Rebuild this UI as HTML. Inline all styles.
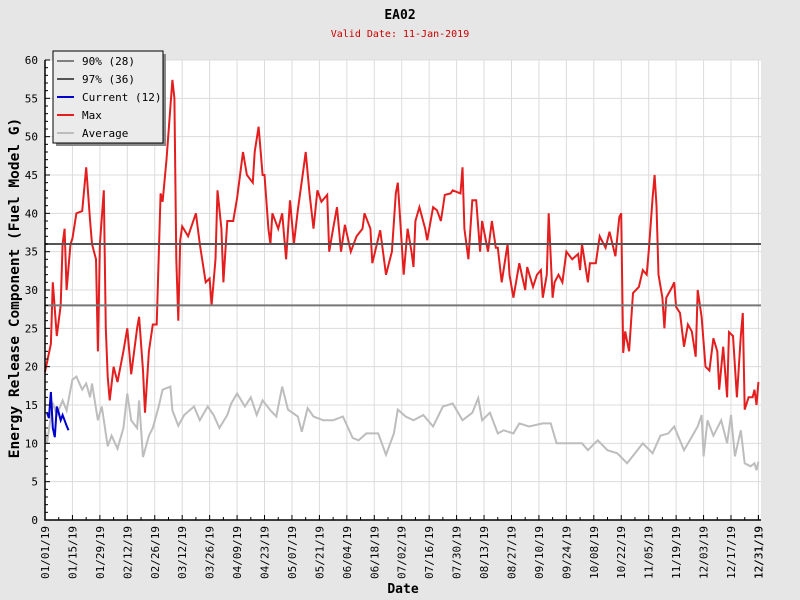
<!DOCTYPE html>
<html><head><meta charset="utf-8"><style>
body{margin:0;background:#e6e6e6;}
svg{display:block;font-family:"DejaVu Sans Mono","Liberation Mono",monospace;}
</style></head><body>
<svg id="c" width="800" height="600" xmlns="http://www.w3.org/2000/svg">
<rect width="800" height="600" fill="#e6e6e6"/>
<rect x="45" y="60" width="716" height="460" fill="#ffffff"/>
<g id="grid"></g>
<g id="series"></g>
<g id="axes"></g>
<text x="400" y="19" text-anchor="middle" font-size="13" font-weight="bold" fill="#000">EA02</text>
<text x="400" y="37" text-anchor="middle" font-size="10" fill="#cc0000">Valid Date: 11-Jan-2019</text>
<text transform="translate(19,288) rotate(-90)" text-anchor="middle" font-size="14.5" font-weight="bold" fill="#000">Energy Release Component (Fuel Model G)</text>
<text x="403" y="593" text-anchor="middle" font-size="13" font-weight="bold" fill="#000">Date</text>
<g>
<rect x="56" y="54" width="110" height="92" fill="#888"/>
<rect x="53" y="51" width="110" height="92" fill="#ebebeb" stroke="#000" stroke-width="1"/>
<g id="legend"></g>
</g>
</svg>
<script>
const yTicks=[0,5,10,15,20,25,30,35,40,45,50,55,60];
const p90=28, p97=36;
const currentDay=[0,1,2,3,4,5,6,7,8,9,10,11];
const currentVal=[14,13.3,16.7,12,10.8,14.8,14,13,13.7,13,12.3,11.7];
const maxDay=[0,3,4,6,8,9,10,11,13,14,16,19,21,23,24,26,27,28,30,31,32,33,35,37,40,42,44,47,48,50,51,53,55,57,59,60,62,65,66,67,68,69,70,73,77,79,82,84,85,87,88,90,91,93,96,98,101,103,106,107,109,111,112,114,115,116,119,121,123,125,127,129,132,133,135,137,139,141,144,145,147,149,151,153,156,159,162,163,166,167,171,174,177,179,180,183,185,187,188,189,191,194,195,198,200,202,204,207,208,212,213,214,216,218,220,222,223,226,228,230,231,233,236,237,239,242,245,246,249,251,253,254,256,257,259,260,262,264,266,269,272,273,274,277,278,281,283,286,288,291,293,294,295,296,298,300,303,305,307,308,310,311,312,313,315,316,317,320,321,322,324,326,328,330,332,333,335,337,339,341,343,344,346,348,349,351,353,355,356,357,359,361,362,363,364];
const maxVal=[19.3,23,31,24,28,36,38,30,36,36.7,40,40.3,46,39,36,34,22,36,43,25,18.7,15.6,20,18,22,25,19,25,26.5,19.5,14,22,25.5,25.5,42.6,41.5,47,57.4,55,34,26,36.5,38.3,37,40,36,31,31.5,28,34,43,38,31,39,39,42,48,45,44,48,51.3,45,45,38,36,40,38,40,34,41.7,36,40.4,46,48,42.5,38,43,41.5,42.4,35,38,40.8,35,38.5,35,37,38,40,38,33.5,37.8,32,35,42.6,44,32,38,35,33,39,40.8,38,36.5,40.8,40.4,39,42.4,42.6,43,42.6,46,38,34,41.7,41.7,35,39,35,39,35.5,35.5,31,36,32,29,33.5,30,33,30.4,32,32.6,29,32,40,29,31,32,31,35,34,34.7,32.6,36,31,33.5,33.5,37,35.5,37.6,34.4,39.5,40,21.8,24.6,22,29.6,30.4,32.6,32,35,42,45,41,32,29,25,29,30.4,31,27.8,27,22.6,25.5,24.6,21.3,30,26.5,20,19.5,23.7,22,17,22.6,16,24.5,24,16,24,27,14.4,16,16,17,15,18];
const avgDay=[0,1,4,6,9,11,14,16,19,21,23,24,27,29,32,34,37,40,42,44,47,48,50,53,55,58,60,64,65,68,71,76,79,83,86,89,93,95,98,102,105,108,111,115,118,121,124,129,131,134,137,142,147,152,157,160,164,170,174,178,180,184,188,193,198,203,208,213,218,221,223,227,231,234,239,242,247,254,258,261,266,274,277,282,287,292,297,301,305,310,314,318,321,326,329,333,335,336,338,341,345,348,350,352,355,357,360,362,363,364];
const avgVal=[11.7,10,15.3,13.7,15.6,14.3,18.3,18.7,17,17.8,16,17.8,13,14.8,9.6,11,9.3,12,16.5,13,12,15.6,8.2,11,12,14.8,17,17.4,14.3,12.3,13.7,14.8,13,14.8,13.7,12,13.7,15.2,16.5,14.8,16,13.7,15.6,14.3,13.5,17.4,14.4,13.5,11.5,14.6,13.5,13,13,13.5,10.7,10.4,11.3,11.3,8.5,11.3,14.4,13.5,13,13.7,12.2,14.8,15.2,13,14,15.9,13,14,11.3,11.7,11.3,12.6,12.2,12.6,12.6,10,10,10,9.1,10.4,9.1,8.7,7.4,8.7,10,8.7,11,11.3,12.2,9.1,10.4,12.2,13.7,8.3,13,11,13,10,13.7,8.3,11.7,7.4,7,7.4,6.5,7.6];

const NS="http://www.w3.org/2000/svg";
const X0=45,PX=1.96,Y0=520,PY=460/60;
function xs(d){return X0+d*PX;}
function ys(v){return Y0-v*PY;}
function mk(tag,attrs,parent){const e=document.createElementNS(NS,tag);for(const k in attrs)e.setAttribute(k,attrs[k]);parent.appendChild(e);return e;}
const grid=document.getElementById('grid'),axes=document.getElementById('axes'),ser=document.getElementById('series'),leg=document.getElementById('legend');

yTicks.forEach(v=>{
  const l=mk('line',{x1:X0,x2:761,y1:ys(v),y2:ys(v),stroke:'#dcdcdc','stroke-width':1},grid);
  
  
  const t=mk('text',{x:38,y:ys(v)+4,'text-anchor':'end','font-size':11,fill:'#000'},axes);
  t.textContent=v;
  
  
});
for(let v=0;v<=60;v++){
  const l=mk('line',{x1:X0,x2:X0+(v%5?3:5),y1:ys(v),y2:ys(v),stroke:'#000','stroke-width':1},axes);
  
  
}
const start=new Date(2019,0,1);
for(let d=0;d<=364;d+=7){
  const major=(d%14===0);
  const l=mk('line',{x1:xs(d),x2:xs(d),y1:Y0,y2:Y0-(major?5:3),stroke:'#000','stroke-width':1},axes);
  
  
  if(major){
    const g=mk('line',{x1:xs(d),x2:xs(d),y1:60,y2:Y0,stroke:'#dcdcdc','stroke-width':1},grid);
    
    
  }
}
const labelDays=[];for(let d=0;d<=364;d+=14)labelDays.push(d);labelDays.push(364);
labelDays.forEach(d=>{
  if(d===364){const l=mk('line',{x1:xs(d),x2:xs(d),y1:Y0,y2:Y0-5,stroke:'#000'},axes);}
  const dt=new Date(start.getTime()+d*86400000);
  const s=String(dt.getMonth()+1).padStart(2,'0')+'/'+String(dt.getDate()).padStart(2,'0')+'/19';
  const t=mk('text',{transform:`translate(${xs(d)+4},526) rotate(-90)`,'text-anchor':'end','font-size':11,fill:'#000'},axes);
  t.textContent=s;
  
  
});
const ax=mk('path',{d:`M${X0},60 V${Y0} H761`,fill:'none',stroke:'#000','stroke-width':1.5},axes);



function line(days,vals,color,name){
  const d=days.map((dd,i)=>(i?'L':'M')+xs(dd).toFixed(1)+','+ys(vals[i]).toFixed(1)).join('');
  const p=mk('path',{d:d,fill:'none',stroke:color,'stroke-width':2,'stroke-linejoin':'miter'},ser);
  
  
}
line(avgDay,avgVal,'#bdbdbd','average-line');
line(maxDay,maxVal,'#e41e1e','max-line');
[[p90,'#777777','p90-line'],[p97,'#555555','p97-line']].forEach(a=>{
  const l=mk('line',{x1:X0,x2:761,y1:ys(a[0]),y2:ys(a[0]),stroke:a[1],'stroke-width':2},ser);
  
  
});
line(currentDay.map(d=>d+1),currentVal,'#0000cc','current-line');

const legendItems=[['90% (28)','#808080'],['97% (36)','#555555'],['Current (12)','#0000cc'],['Max','#e41e1e'],['Average','#bdbdbd']];
legendItems.forEach((it,i)=>{
  const y=61+i*18;
  const l=mk('line',{x1:57,x2:74,y1:y,y2:y,stroke:it[1],'stroke-width':2},leg);
  
  
  const t=mk('text',{x:82,y:y+4,'font-size':11,fill:'#000'},leg);
  t.textContent=it[0];
  
  
});
</script>
</body></html>
